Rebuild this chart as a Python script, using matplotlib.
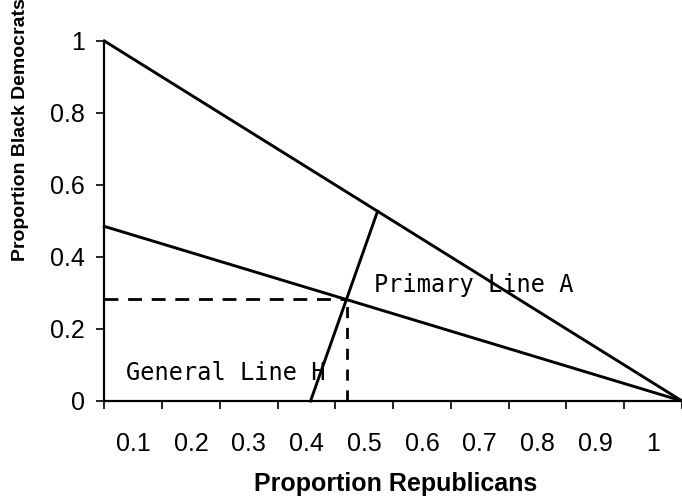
import matplotlib
matplotlib.use("Agg")
import matplotlib.pyplot as plt
import numpy as np

# Lines of the diagram (proportion Republicans, proportion Black Democrats)
primary_x = [0.0, 1.0]
primary_y = [1.0, 0.0]
general_x = [0.0, 1.0]
general_y = [0.485, 0.0]
steep_x = [0.357, 0.473]
steep_y = [0.0, 0.527]
cross_x = 0.42
cross_y = 0.284

x_ticks = np.arange(0, 1.0001, 0.1)
x_label_pos = np.arange(0.05, 1.0, 0.1)
x_tick_labels = ["0.1", "0.2", "0.3", "0.4", "0.5", "0.6", "0.7", "0.8", "0.9", "1"]
y_ticks = [0, 0.2, 0.4, 0.6, 0.8, 1.0]
y_tick_labels = ["0", "0.2", "0.4", "0.6", "0.8", "1"]

sans = "Liberation Sans"
mono = "DejaVu Sans Mono"

fig = plt.figure(figsize=(6.82, 5.04), dpi=100)
ax = fig.add_axes([0.153, 0.2044, 0.847, 0.7143])

lw = 2.1
ax.plot(primary_x, primary_y, color="black", lw=lw, clip_on=False)
ax.plot(general_x, general_y, color="black", lw=lw, clip_on=False)
ax.plot(steep_x, steep_y, color="black", lw=lw, clip_on=False)
ax.plot([0, cross_x], [cross_y, cross_y], color="black", lw=2.0, dashes=(5, 3.5))
ax.plot([cross_x, cross_x], [0, cross_y], color="black", lw=2.0, dashes=(4, 3.5))

ax.text(0.466, 0.322, "Primary Line A", family=mono, fontsize=17, va="center", ha="left")
ax.text(0.038, 0.078, "General Line H", family=mono, fontsize=17, va="center", ha="left")

ax.set_xlim(0, 1)
ax.set_ylim(0, 1)
for s in ["top", "right"]:
    ax.spines[s].set_visible(False)
ax.spines["left"].set_linewidth(1.6)
ax.spines["bottom"].set_linewidth(1.6)

ax.set_xticks(x_ticks)
ax.set_xticklabels([])
ax.set_xticks(x_label_pos, minor=True)
ax.set_xticklabels(x_tick_labels, minor=True, family=sans, fontsize=18)
ax.tick_params(axis="x", which="major", length=6, width=1.2, direction="out")
ax.tick_params(axis="x", which="minor", length=0, pad=22)

ax.set_yticks(y_ticks)
ax.set_yticklabels(y_tick_labels, family=sans, fontsize=18)
ax.tick_params(axis="y", length=6, width=1.2, direction="out", pad=8)

fig.text(0.58, 0.04, "Proportion Republicans", family=sans, fontsize=18,
         fontweight="bold", ha="center", va="center")
fig.text(0.03, 0.742, "Proportion Black Democrats", family=sans, fontsize=14,
         fontweight="bold", ha="center", va="center", rotation=90)

fig.savefig("out.png", dpi=100)
